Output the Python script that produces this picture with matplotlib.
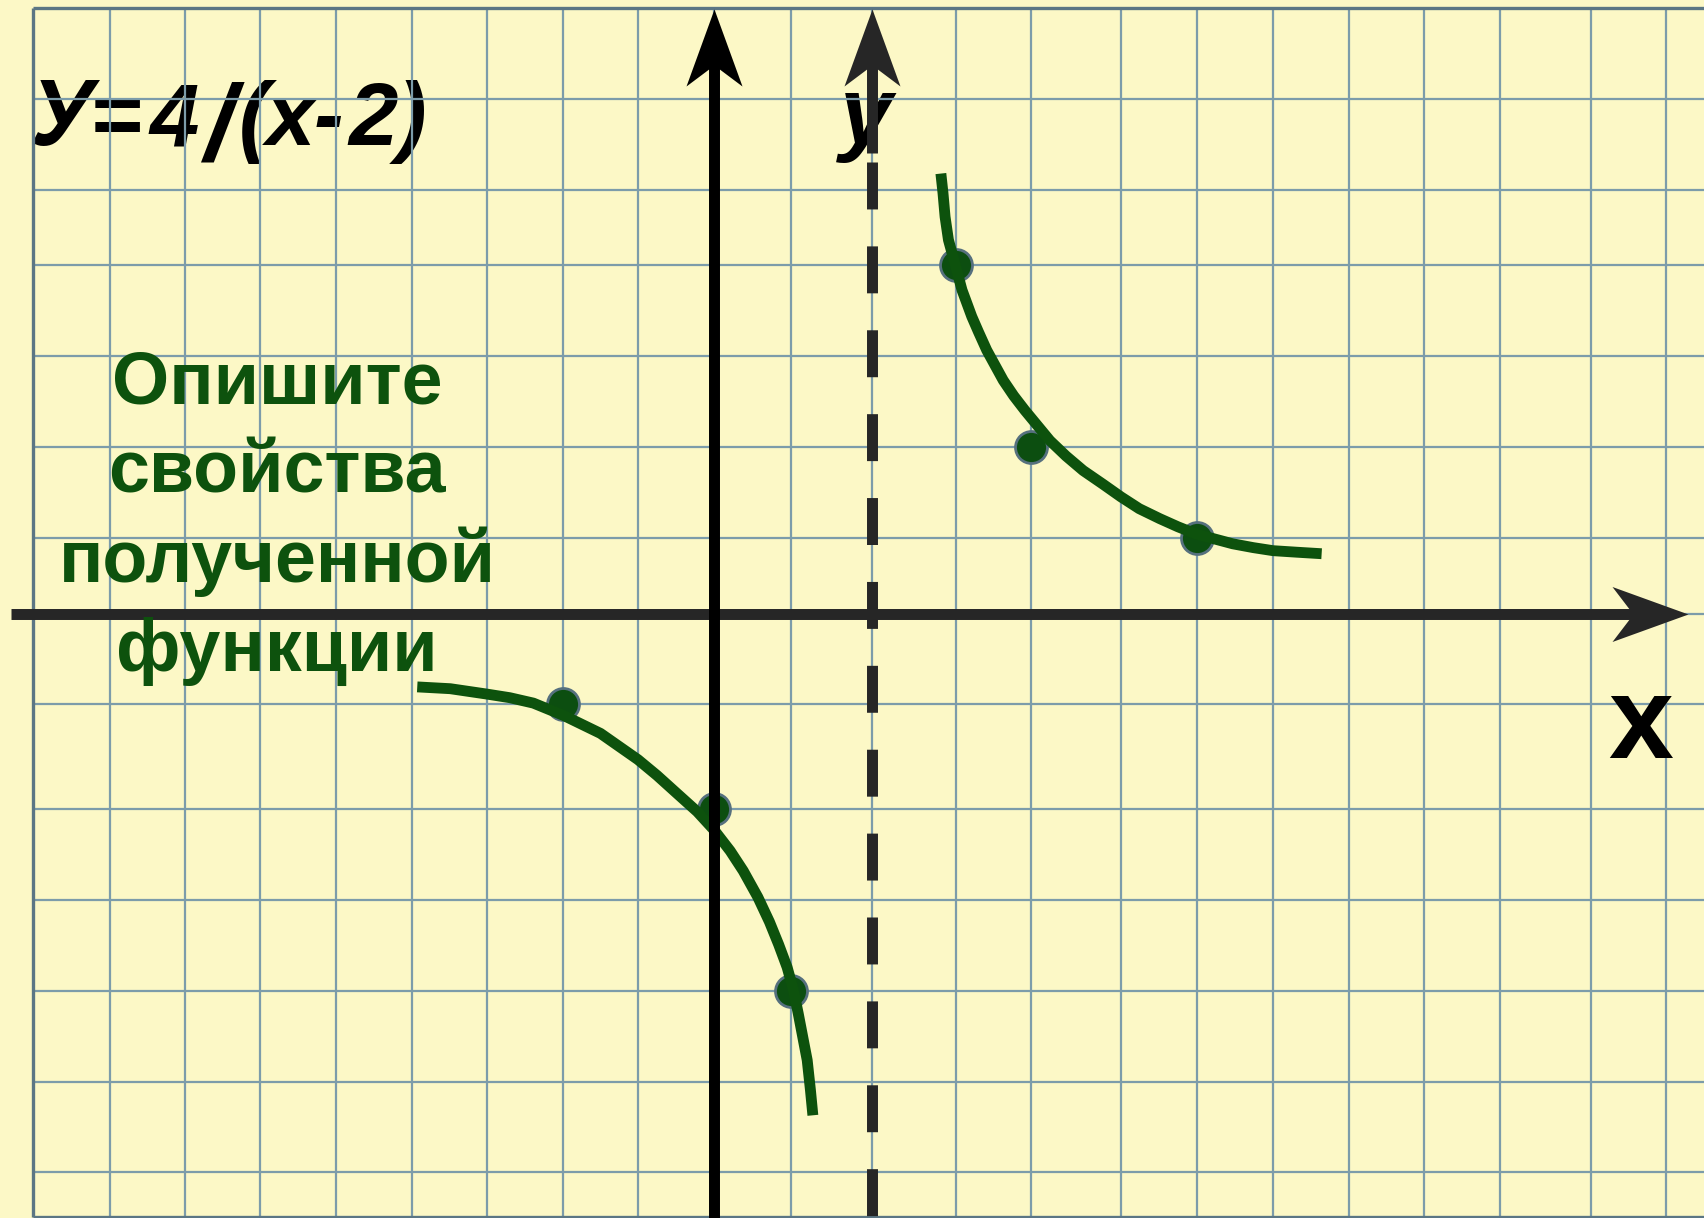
import numpy as np
import matplotlib.pyplot as plt
from matplotlib.path import Path

# размер картинки в пикселях
W, H = 1704, 1218

# клетки листа нарисованы неровно: номер клетки -> пиксель
grid_x_units = np.arange(-10, 14)
grid_x_px = np.array([-44, 33, 110, 185, 260, 336, 412, 487, 563, 638, 714,
                      791, 872, 956, 1031, 1121, 1197, 1273, 1349, 1424, 1500,
                      1591, 1666, 1742])
grid_y_units = np.array([-7, -6.5, -6, -5, -4, -3, -2, -1, 0, 1, 2, 3, 4, 5, 6, 7, 8])
grid_y_px = np.array([1262, 1217, 1172, 1082, 991, 900, 809, 704, 614, 537.7,
                      447, 355.7, 264.5, 190, 98.7, 7.5, -83.8])
grid_y_h = H - grid_y_px  # снизу вверх

# ветви гиперболы y = 4/(x-2)
right_x = [2.82, 2.845, 2.87, 2.91, 2.99, 3.08, 3.21, 3.30, 3.41, 3.63, 3.77,
           3.92, 4.21, 4.39, 4.58, 4.80, 5.0, 5.24, 5.51, 5.75, 5.99, 6.47,
           6.74, 7.0, 7.31, 7.64]
right_y = [5.18, 4.96, 4.64, 4.33, 4.0, 3.72, 3.43, 3.26, 3.06, 2.73, 2.56,
           2.40, 2.07, 1.90, 1.74, 1.59, 1.45, 1.32, 1.21, 1.12, 1.04, 0.92,
           0.87, 0.83, 0.81, 0.79]
left_x = [-3.93, -3.49, -3.0, -2.70, -2.39, -1.99, -1.50, -1.24, -1.0, -0.75,
          -0.49, -0.22, 0.0, 0.21, 0.38, 0.57, 0.72, 0.84, 0.95, 1.03, 1.09,
          1.20, 1.24, 1.27]
left_y = [-0.81, -0.83, -0.89, -0.93, -0.99, -1.11, -1.28, -1.41, -1.53, -1.68,
          -1.85, -2.03, -2.23, -2.46, -2.68, -2.97, -3.24, -3.49, -3.74, -3.99,
          -4.25, -4.76, -5.09, -5.37]

# отмеченные точки
pts_x = [3, 4, 6, -2, 0, 1]
pts_y = [4, 2, 1, -1, -2, -4]

asymptote_x = 2

# заголовок набран вразрядку
title_chars = ["У", "=", "4", "/", "(", "x", "-", "2", ")"]
task_lines = ["Опишите", "свойства", "полученной", "функции"]

bg = "#fcf8c6"
grid_col = "#7c9caa"
border_col = "#5b7684"
green = "#0d520d"
dark = "#262626"


def fwd_x(u):
    return np.interp(u, grid_x_units, grid_x_px)


def inv_x(p):
    return np.interp(p, grid_x_px, grid_x_units)


def fwd_y(u):
    return np.interp(u, grid_y_units, grid_y_h)


def inv_y(h):
    return np.interp(h, grid_y_h, grid_y_units)


plt.rcParams['lines.scale_dashes'] = False
plt.rcParams['font.family'] = ['Liberation Sans', 'DejaVu Sans']

fig = plt.figure(figsize=(W / 100, H / 100), dpi=100, facecolor=bg)
ax = fig.add_axes([0, 0, 1, 1])
ax.set_axis_off()
ax.set_xscale('function', functions=(fwd_x, inv_x))
ax.set_yscale('function', functions=(fwd_y, inv_y))
ax.set_xlim(inv_x(0), inv_x(W))
ax.set_ylim(inv_y(0), inv_y(H))
xr = ax.get_xlim()[1]

# сетка
ax.vlines(np.arange(-8, 13), -6.5, 7, color=grid_col, lw=1.6, zorder=1)
ax.hlines(np.arange(-6, 7), -9, xr, color=grid_col, lw=1.6, zorder=1)
ax.vlines([-9], -6.5, 7, color=border_col, lw=2.4, zorder=1.1)
ax.hlines([7, -6.5], -9, xr, color=border_col, lw=2.4, zorder=1.1)

# график
ax.plot(pts_x, pts_y, 'o', ms=23, mfc="#0c4e10", mec="#56707e", mew=2.0, zorder=3)
ax.plot(right_x, right_y, color=green, lw=7.8, solid_capstyle='butt',
        solid_joinstyle='round', zorder=3.5)
ax.plot(left_x, left_y, color=green, lw=7.8, solid_capstyle='butt',
        solid_joinstyle='round', zorder=3.5)

# стрелки осей (в пикселях от острия)
head_right = Path([(0, 0), (-76, 27.5), (-55, 0), (-76, -27.5), (0, 0)],
                  [Path.MOVETO, Path.LINETO, Path.LINETO, Path.LINETO, Path.CLOSEPOLY])
head_up = Path([(0, 0), (-28, -77), (0, -56), (28, -77), (0, 0)],
               [Path.MOVETO, Path.LINETO, Path.LINETO, Path.LINETO, Path.CLOSEPOLY])
ms_r = 2 * 76 * 0.72
ms_u = 2 * 77 * 0.72

tx = ax.get_yaxis_transform()   # x в долях, y в данных
ty = ax.get_xaxis_transform()   # x в данных, y в долях

# ось x
ax.plot([11 / W, 1640 / W], [0, 0], color=dark, lw=7.9, solid_capstyle='butt',
        transform=tx, zorder=4)
ax.plot([1688 / W], [0], marker=head_right, ms=ms_r, mew=0, color=dark,
        transform=tx, zorder=4)

# ось y (сплошная)
ax.plot([0, 0], [0, 1 - 60 / H], color="black", lw=7.9, solid_capstyle='butt',
        transform=ty, zorder=4.2)
ax.plot([0], [1 - 9 / H], marker=head_up, ms=ms_u, mew=0, color="black",
        transform=ty, zorder=4.2)

# асимптота x = 2 (пунктир)
ax.plot([asymptote_x, asymptote_x], [1 - 162 / H, 0], color=dark, lw=7.9,
        ls=(0, (33.8, 26.6)), solid_capstyle='butt', dash_capstyle='butt',
        transform=ty, zorder=4.1)
ax.plot([asymptote_x, asymptote_x], [1 - 153 / H, 1 - 60 / H], color=dark, lw=7.9,
        solid_capstyle='butt', transform=ty, zorder=4.1)
ax.plot([asymptote_x], [1 - 9 / H], marker=head_up, ms=ms_u, mew=0, color=dark,
        transform=ty, zorder=4.1)

# подписи; заголовок и «y» лежат под сеткой
tf = fig.transFigure
title_cx = [61, 116, 174, 219, 254, 291, 328, 373, 412]
title_base = [145, 145, 145, 160, 145, 145, 145, 145, 145]
title_size = [68, 64, 64, 78, 64, 64, 64, 64, 64]
for ch, cx, yb, fs in zip(title_chars, title_cx, title_base, title_size):
    ax.text(cx / W, 1 - yb / H, ch, transform=tf, fontsize=fs, fontweight='bold',
            fontstyle='italic', color="black", ha='center', va='baseline', zorder=0.5)

ax.text(866 / W, 1 - 143 / H, "y", transform=tf, fontsize=68, fontweight='bold',
        fontstyle='italic', color="black", ha='center', va='baseline', zorder=0.5)
fig.text(1641 / W, 1 - 758 / H, "x", fontsize=84, fontweight='bold',
         color="black", ha='center', va='baseline', zorder=6)

for i, line in enumerate(task_lines):
    fig.text(277 / W, 1 - (403 + 89.3 * i) / H, line, fontsize=53,
             fontweight='bold', color=green, ha='center', va='baseline', zorder=6)

fig.savefig("out.png", dpi=100, facecolor=bg)
